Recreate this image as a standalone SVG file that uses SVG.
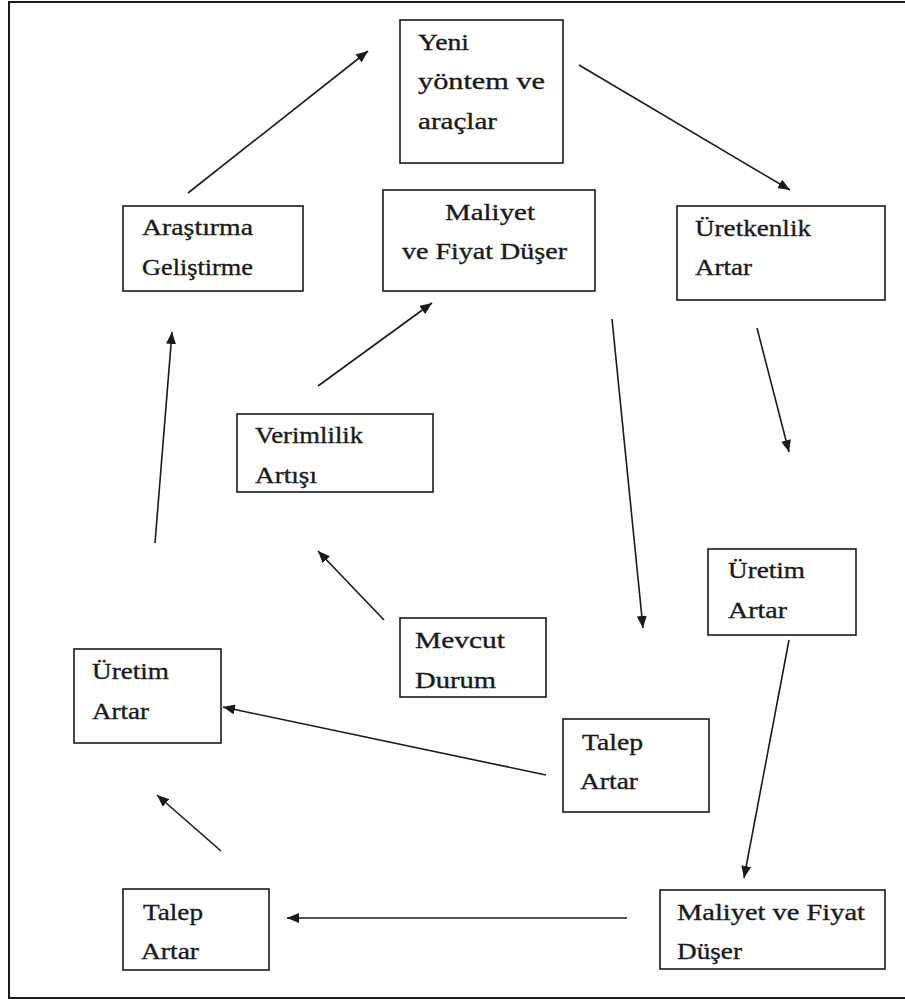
<svg xmlns="http://www.w3.org/2000/svg" width="905" height="1000" viewBox="0 0 905 1000">
<defs>
<style>
.box{fill:#fff;stroke:#1a1a1a;stroke-width:1.6}
.t{font-family:"Liberation Serif","Times New Roman",serif;font-size:24px;fill:#1a1a1a;stroke:#1a1a1a;stroke-width:0.35}
.c line{stroke:#1a1a1a;stroke-width:1.6;marker-end:url(#ah)}
</style>
<marker id="ah" markerUnits="userSpaceOnUse" markerWidth="12" markerHeight="10" refX="12" refY="5" orient="auto">
<path d="M0,0 L12,5 L0,10 z" fill="#1a1a1a"/>
</marker>
</defs>
<rect x="0" y="0" width="905" height="1000" fill="#fff"/>
<rect x="9" y="2" width="905" height="996" fill="none" stroke="#1a1a1a" stroke-width="2"/>

<g id="n-yeni"><rect class="box" x="400" y="20" width="163" height="143"/>
<text class="t" x="418" y="50" textLength="51" lengthAdjust="spacingAndGlyphs">Yeni</text>
<text class="t" x="418" y="89" textLength="127" lengthAdjust="spacingAndGlyphs">yöntem  ve</text>
<text class="t" x="418" y="129" textLength="79" lengthAdjust="spacingAndGlyphs">araçlar</text></g>

<g id="n-arastirma"><rect class="box" x="123" y="206" width="180" height="85"/>
<text class="t" x="142" y="235" textLength="111" lengthAdjust="spacingAndGlyphs">Araştırma</text>
<text class="t" x="142" y="275" textLength="111" lengthAdjust="spacingAndGlyphs">Geliştirme</text></g>

<g id="n-maliyet1"><rect class="box" x="383" y="190" width="212" height="101"/>
<text class="t" x="445" y="220" textLength="90" lengthAdjust="spacingAndGlyphs">Maliyet</text>
<text class="t" x="402" y="259" textLength="165" lengthAdjust="spacingAndGlyphs">ve Fiyat Düşer</text></g>

<g id="n-uretkenlik"><rect class="box" x="677" y="206" width="208" height="94"/>
<text class="t" x="695" y="236" textLength="116" lengthAdjust="spacingAndGlyphs">Üretkenlik</text>
<text class="t" x="695" y="275" textLength="57" lengthAdjust="spacingAndGlyphs">Artar</text></g>

<g id="n-uretim-r"><rect class="box" x="708" y="549" width="148" height="86"/>
<text class="t" x="728" y="578" textLength="77" lengthAdjust="spacingAndGlyphs">Üretim</text>
<text class="t" x="728" y="618" textLength="59" lengthAdjust="spacingAndGlyphs">Artar</text></g>

<g id="n-verimlilik"><rect class="box" x="237" y="414" width="196" height="78"/>
<text class="t" x="255" y="443" textLength="108" lengthAdjust="spacingAndGlyphs">Verimlilik</text>
<text class="t" x="255" y="483" textLength="62" lengthAdjust="spacingAndGlyphs">Artışı</text></g>

<g id="n-mevcut"><rect class="box" x="400" y="618" width="146" height="79"/>
<text class="t" x="415" y="648" textLength="90" lengthAdjust="spacingAndGlyphs">Mevcut</text>
<text class="t" x="415" y="688" textLength="81" lengthAdjust="spacingAndGlyphs">Durum</text></g>

<g id="n-uretim-l"><rect class="box" x="74" y="649" width="147" height="94"/>
<text class="t" x="92" y="679" textLength="77" lengthAdjust="spacingAndGlyphs">Üretim</text>
<text class="t" x="92" y="719" textLength="57" lengthAdjust="spacingAndGlyphs">Artar</text></g>

<g id="n-talep-m"><rect class="box" x="563" y="719" width="146" height="93"/>
<text class="t" x="582" y="750" textLength="61" lengthAdjust="spacingAndGlyphs">Talep</text>
<text class="t" x="580" y="789" textLength="58" lengthAdjust="spacingAndGlyphs">Artar</text></g>

<g id="n-talep-b"><rect class="box" x="123" y="889" width="146" height="81"/>
<text class="t" x="143" y="920" textLength="60" lengthAdjust="spacingAndGlyphs">Talep</text>
<text class="t" x="141" y="959" textLength="58" lengthAdjust="spacingAndGlyphs">Artar</text></g>

<g id="n-maliyet2"><rect class="box" x="660" y="890" width="225" height="79"/>
<text class="t" x="677" y="920" textLength="188" lengthAdjust="spacingAndGlyphs">Maliyet ve Fiyat</text>
<text class="t" x="677" y="959" textLength="65" lengthAdjust="spacingAndGlyphs">Düşer</text></g>

<g id="connectors" class="c">
<line x1="188" y1="193" x2="368" y2="51"/>
<line x1="579" y1="65" x2="790" y2="190"/>
<line x1="757" y1="328" x2="789" y2="452"/>
<line x1="789" y1="640" x2="744" y2="878"/>
<line x1="627" y1="918" x2="287" y2="918"/>
<line x1="221" y1="851" x2="157" y2="795"/>
<line x1="546" y1="775" x2="223" y2="707"/>
<line x1="384" y1="620" x2="318" y2="551"/>
<line x1="318" y1="386" x2="432" y2="303"/>
<line x1="612" y1="319" x2="643" y2="628"/>
<line x1="155" y1="543" x2="172" y2="332"/>
</g>
</svg>
